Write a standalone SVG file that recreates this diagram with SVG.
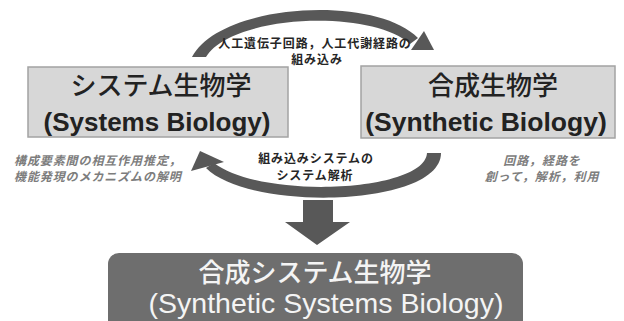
<svg xmlns="http://www.w3.org/2000/svg" width="624" height="321" viewBox="0 0 624 321">
<style>
.box{fill:#d7d7d7;stroke:#a3a3a3;stroke-width:1.5}
.jp{font-family:"Noto Sans CJK JP","Noto Sans",sans-serif;text-anchor:middle;font-weight:500}
.en{font-family:"Liberation Sans",Arial,sans-serif;text-anchor:middle}
.lbl{font-family:"Noto Sans CJK JP",sans-serif;font-size:12px;letter-spacing:0.9px;font-weight:bold;fill:#262626;text-anchor:middle}
.note{font-family:"Noto Sans CJK JP",sans-serif;font-size:12px;letter-spacing:0.9px;font-weight:bold;font-style:italic;fill:#7d7d7d}
.arr{fill:#585858}
</style>
<rect width="624" height="321" fill="#ffffff"/>
<g id="connectors">
  <g id="top-arrow">
    <path class="arr" d="M192,57 C220,3 375,-6 418,38 L410,44 C372,9 232,14 206,57 Z"/>
    <polygon class="arr" points="424,31 411,50 434,50"/>
  </g>
  <g id="bottom-arrow">
    <path class="arr" d="M441,153 C441,207 250,212 206,168 L214,163 C262,200 425,192 427,153 Z"/>
    <polygon class="arr" points="200,151 191,171 224,162"/>
  </g>
  <g id="down-arrow">
    <polygon class="arr" points="303,200 333,200 333,222 350,222 317,245 285,222 303,222"/>
  </g>
</g>
<g id="systems-biology">
  <rect class="box" x="28" y="67" width="260" height="70"/>
  <text class="jp" x="161" y="95" font-size="26" fill="#222">システム生物学</text>
  <text class="en" x="157" y="131" font-size="26" font-weight="bold" fill="#222">(Systems Biology)</text>
</g>
<g id="synthetic-biology">
  <rect class="box" x="361" y="66" width="254" height="72"/>
  <text class="jp" x="493" y="95" font-size="26" fill="#222">合成生物学</text>
  <text class="en" x="486" y="131" font-size="26.5" font-weight="bold" fill="#222">(Synthetic Biology)</text>
</g>
<g id="synthetic-systems-biology">
  <rect x="108" y="253" width="415" height="90" rx="11" fill="#6e6e6e"/>
  <text class="jp" x="315" y="282" font-size="26" fill="#f4f4f4">合成システム生物学</text>
  <text class="en" x="326" y="313" font-size="28.5" fill="#f4f4f4">(Synthetic Systems Biology)</text>
</g>
<g id="labels">
  <text class="lbl" x="315" y="48">人工遺伝子回路，人工代謝経路の</text>
  <text class="lbl" x="317" y="64">組み込み</text>
  <text class="lbl" x="316" y="163">組み込みシステムの</text>
  <text class="lbl" x="315" y="180">システム解析</text>
  <text class="note" x="14" y="165">構成要素間の相互作用推定，</text>
  <text class="note" x="14" y="181">機能発現のメカニズムの解明</text>
  <text class="note" x="542" y="165" text-anchor="middle">回路，経路を</text>
  <text class="note" x="542" y="181" text-anchor="middle">創って，解析，利用</text>
</g>
</svg>
